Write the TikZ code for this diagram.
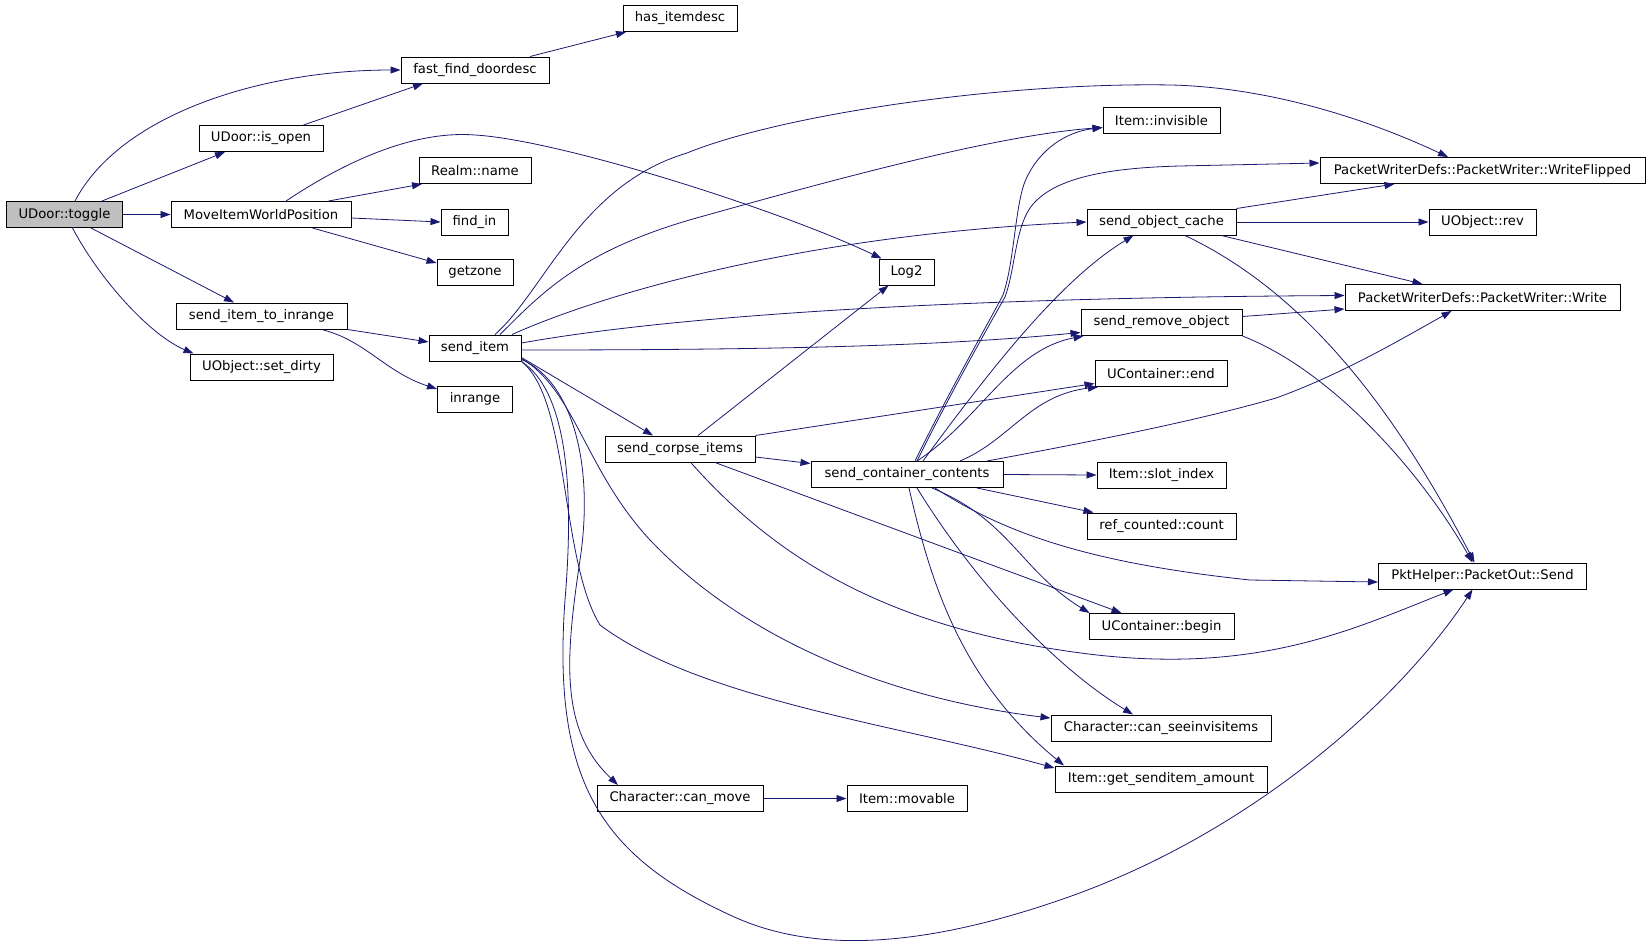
\documentclass[tikz,border=0pt]{standalone}
\usepackage{fontspec}
\setmainfont{DejaVu Sans}
\usetikzlibrary{arrows.meta}
\definecolor{callblue}{HTML}{191970}
\definecolor{rootgray}{HTML}{BFBFBF}

\begin{document}
\begin{tikzpicture}[x=1pt, y=-1pt,
  fn/.style={draw, line width=1pt, fill=white, inner sep=0pt, minimum height=26pt,
    font=\fontsize{13.2}{15}\selectfont},
  root/.style={fn, fill=rootgray},
  call/.style={draw=callblue, line width=0.8pt, -{Triangle[length=10pt,width=7pt]}, callblue}]
  \useasboundingbox (0,0) rectangle (1651,951);

  % Niveau 0
  \node[root, minimum width=116pt] (toggle) at (64.5,214.5) {UDoor::toggle};

  % Niveau 1
  \node[fn, minimum width=124pt] (isopen)   at (261,138.5) {UDoor::is\_open};
  \node[fn, minimum width=180pt] (move)     at (261,214.5) {MoveItemWorldPosition};
  \node[fn, minimum width=171pt] (sitir)    at (261.5,316) {send\_item\_to\_inrange};
  \node[fn, minimum width=143pt] (setdirty) at (261.5,367) {UObject::set\_dirty};

  % Niveau 2
  \node[fn, minimum width=148pt] (ffd)      at (475,70)    {fast\_find\_doordesc};
  \node[fn, minimum width=112pt] (realm)    at (475,170.5) {Realm::name};
  \node[fn, minimum width=67pt]  (findin)   at (474.5,222) {find\_in};
  \node[fn, minimum width=76pt]  (getzone)  at (475,272)   {getzone};
  \node[fn, minimum width=92pt]  (senditem) at (475,348)   {send\_item};
  \node[fn, minimum width=75pt]  (inrange)  at (475,399)   {inrange};

  % Niveau 3
  \node[fn, minimum width=114pt] (hasdesc) at (680,18.5)  {has\_itemdesc};
  \node[fn, minimum width=150pt] (sci)     at (680,449)   {send\_corpse\_items};
  \node[fn, minimum width=166pt] (canmove) at (680,798.5) {Character::can\_move};

  % Niveau 4
  \node[fn, minimum width=55pt]  (log)     at (906.5,272)   {Log2};
  \node[fn, minimum width=192pt] (scc)     at (907,474.5)   {send\_container\_contents};
  \node[fn, minimum width=120pt] (movable) at (907,798.5)   {Item::movable};

  % Niveau 5
  \node[fn, minimum width=117pt] (inv)    at (1161.5,120.5) {Item::invisible};
  \node[fn, minimum width=149pt] (soc)    at (1161.5,222)   {send\_object\_cache};
  \node[fn, minimum width=161pt] (sro)    at (1161.5,322.5) {send\_remove\_object};
  \node[fn, minimum width=132pt] (uend)   at (1161,373.5)   {UContainer::end};
  \node[fn, minimum width=129pt] (slot)   at (1161.5,475)   {Item::slot\_index};
  \node[fn, minimum width=149pt] (refc)   at (1161.5,526)   {ref\_counted::count};
  \node[fn, minimum width=145pt] (ubegin) at (1161.5,626.5) {UContainer::begin};
  \node[fn, minimum width=220pt] (csi)    at (1161,728)     {Character::can\_seeinvisitems};
  \node[fn, minimum width=212pt] (gsa)    at (1161,779)     {Item::get\_senditem\_amount};

  % Niveau 6
  \node[fn, minimum width=325pt] (wf)    at (1482.5,170.5) {PacketWriterDefs::PacketWriter::WriteFlipped};
  \node[fn, minimum width=107pt] (rev)   at (1482.5,222)   {UObject::rev};
  \node[fn, minimum width=275pt] (write) at (1482.5,297.5) {PacketWriterDefs::PacketWriter::Write};
  \node[fn, minimum width=208pt] (pkt)   at (1482.5,576)   {PktHelper::PacketOut::Send};

  % UDoor::toggle
  \draw[call] ([xshift=10.5pt]toggle.north) .. controls (120,115) and (260,70) .. (ffd.west);
  \draw[call] ([xshift=37.5pt]toggle.north) -- ([xshift=-36pt]isopen.south);
  \draw[call] (toggle) -- (move);
  \draw[call] ([xshift=26.5pt]toggle.south) -- ([xshift=-27.5pt]sitir.north);
  \draw[call] ([xshift=8pt]toggle.south) .. controls (100,280) and (150,335) .. ([xshift=-68pt]setdirty.north);

  % UDoor::is_open, fast_find_doordesc
  \draw[call] ([xshift=42.5pt]isopen.north) -- ([xshift=-52pt]ffd.south);
  \draw[call] ([xshift=55pt]ffd.north) -- ([xshift=-54pt]hasdesc.south);

  % MoveItemWorldPosition
  \draw[call] ([xshift=25pt]move.north) .. controls (340,165) and (410,130) .. (475,135)
    .. controls (560,140) and (780,210) .. ([xshift=-25pt]log.north);
  \draw[call] ([xshift=67.5pt]move.north) -- ([xshift=-53pt]realm.south);
  \draw[call] ([yshift=-3.5pt]move.east) -- (findin.west);
  \draw[call] ([xshift=51.5pt]move.south) -- ([yshift=9pt]getzone.west);

  % send_item_to_inrange
  \draw[call] (sitir.south east) -- ([yshift=6pt]senditem.west);
  \draw[call] ([xshift=60pt]sitir.south) .. controls (365,340) and (385,372) .. ([yshift=10pt]inrange.west);

  % send_item
  \draw[call] ([xshift=20pt]senditem.north) .. controls (545,290) and (580,185) .. (687,153)
    .. controls (780,115) and (1000,82) .. (1172,85)
    .. controls (1280,88) and (1380,125) .. ([xshift=-34.5pt]wf.north);
  \draw[call] ([xshift=25pt]senditem.north) .. controls (540,295) and (580,250) .. (700,217)
    .. controls (850,175) and (1000,135) .. ([yshift=-7pt]inv.west);
  \draw[call] ([xshift=37pt]senditem.north) .. controls (600,295) and (800,235) .. (soc.west);
  \draw[call] ([yshift=5pt]senditem.east) .. controls (650,320) and (900,298) .. ([yshift=2pt]write.west);
  \draw[call] ([yshift=-2pt]senditem.east) .. controls (800,350) and (950,345) .. ([yshift=-10pt]sro.west);
  \draw[call] ([yshift=4pt]senditem.south east) -- ([xshift=-27pt]sci.north);
  \draw[call] ([yshift=2pt]senditem.south east) .. controls (570,380) and (595,460) .. (580,560)
    .. controls (565,660) and (560,730) .. ([xshift=-62pt]canmove.north);
  \draw[call] ([yshift=3pt]senditem.south east) .. controls (575,390) and (585,470) .. (650,540)
    .. controls (750,645) and (900,700) .. ([yshift=10pt]csi.west);
  \draw[call] (senditem.south east) .. controls (570,400) and (560,560) .. (600,625)
    .. controls (700,700) and (900,725) .. ([yshift=11pt]gsa.west);
  \draw[call] (senditem.south east) .. controls (565,390) and (575,480) .. (565,600)
    .. controls (552,780) and (600,855) .. (730,915)
    .. controls (800,948) and (900,955) .. (1060,900)
    .. controls (1250,835) and (1400,700) .. ([xshift=-10pt]pkt.south);

  % send_corpse_items
  \draw[call] ([xshift=18pt]sci.north) -- ([xshift=-18pt]log.south);
  \draw[call] ([yshift=-8pt]sci.east) -- ([yshift=11pt]scc.west);
  \draw[call] (sci.north east) -- ([yshift=-10pt]uend.west);
  \draw[call] ([xshift=35pt]sci.south) -- ([xshift=-40pt]ubegin.north);
  \draw[call] ([xshift=10.7pt]sci.south) .. controls (760,540) and (860,620) .. (1060,650)
    .. controls (1250,680) and (1350,630) .. ([xshift=-29pt]pkt.south);

  % send_container_contents
  \draw[call] ([xshift=8pt]scc.north) .. controls (950,390) and (990,320) .. (1003,295)
    .. controls (1015,260) and (1015,200) .. (1027,177)
    .. controls (1040,150) and (1065,132) .. ([yshift=-7pt]inv.west);
  \draw[call] ([xshift=10pt]scc.north) .. controls (952,390) and (992,320) .. (1005,297)
    .. controls (1015,270) and (1015,230) .. (1030,208)
    .. controls (1050,180) and (1100,168) .. (1180,166) -- ([yshift=7.5pt]wf.west);
  \draw[call] ([xshift=16pt]scc.north) .. controls (990,370) and (1060,280) .. ([xshift=-28pt]soc.south);
  \draw[call] ([xshift=10pt]scc.north) .. controls (980,420) and (1010,350) .. ([xshift=-78pt]sro.south);
  \draw[call] ([xshift=53pt]scc.north) .. controls (1010,440) and (1030,395) .. ([xshift=-63pt]uend.south);
  \draw[call] ([xshift=80pt]scc.north) .. controls (1100,440) and (1200,420) .. (1276,398)
    .. controls (1340,375) and (1400,340) .. ([xshift=-31pt]write.south);
  \draw[call] (scc.east) -- (slot.west);
  \draw[call] ([xshift=70pt]scc.south) -- ([xshift=-68pt]refc.north);
  \draw[call] ([xshift=28pt]scc.south) .. controls (1000,530) and (1080,562) .. (1250,580) -- ([yshift=-6pt]pkt.west);
  \draw[call] ([xshift=25pt]scc.south) .. controls (1010,520) and (1020,570) .. ([xshift=-72pt]ubegin.north);
  \draw[call] ([xshift=10pt]scc.south) .. controls (980,590) and (1060,670) .. ([xshift=-28pt]csi.north);
  \draw[call] ([xshift=2pt]scc.south) .. controls (930,580) and (960,680) .. ([xshift=-97pt]gsa.north);

  % send_object_cache
  \draw[call] (soc.north east) -- ([xshift=-88pt]wf.south);
  \draw[call] (soc) -- (rev);
  \draw[call] ([xshift=60pt]soc.south) -- ([xshift=-60pt]write.north);
  \draw[call] ([xshift=23.5pt]soc.south) .. controls (1300,290) and (1390,400) .. ([xshift=-8pt]pkt.north);

  % send_remove_object
  \draw[call] ([yshift=6pt]sro.east) -- ([yshift=-11.5pt]write.west);
  \draw[call] (sro.south east) .. controls (1330,370) and (1420,470) .. ([xshift=-10pt]pkt.north);

  % Character::can_move
  \draw[call] (canmove) -- (movable);
\end{tikzpicture}
\end{document}
